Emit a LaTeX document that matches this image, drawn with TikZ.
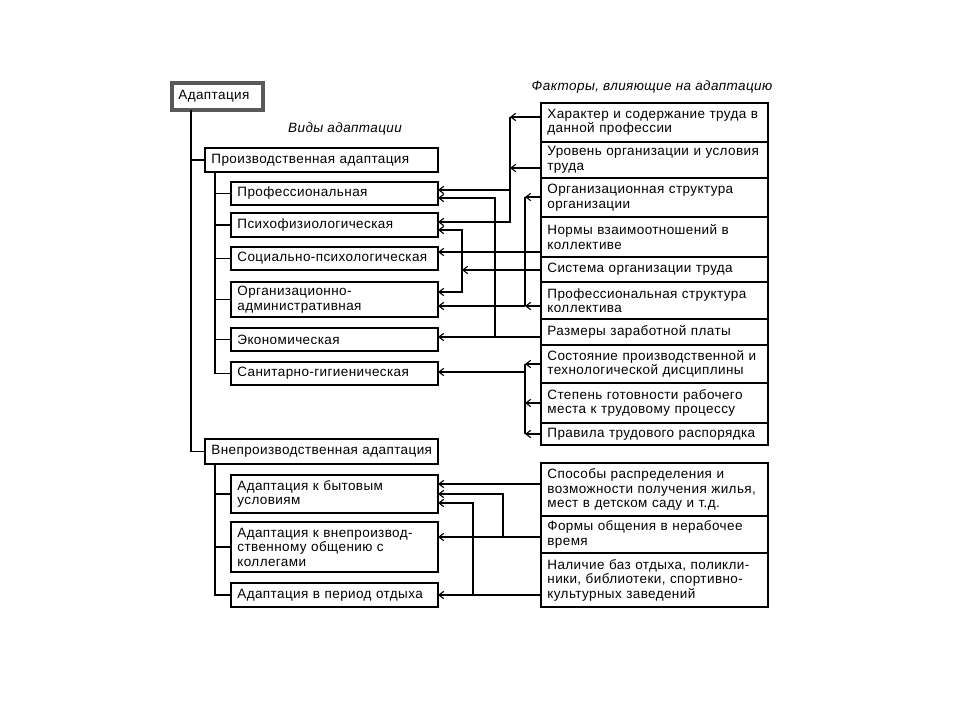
\documentclass[tikz,border=0pt]{standalone}
\usepackage{fontspec}
\setmainfont[LetterSpace=3]{Liberation Sans}
\usetikzlibrary{arrows.meta}

\begin{document}
\begin{tikzpicture}[x=0.025cm,y=-0.025cm,
  font=\fontsize{9.6}{10.3}\selectfont,
  box/.style={draw, line width=0.9pt, anchor=north west, inner xsep=0.16cm,
    inner ysep=0pt, align=left, outer sep=0pt},
  ht/.style={minimum height=#1*0.025cm},
  subbox/.style={box, text width=4.855cm},
  mainbox/.style={box, text width=5.505cm},
  factor/.style={box, text width=5.355cm},
  line/.style={line width=0.8pt},
  arr/.style={line, -{Straight Barb[length=3.4pt,width=5.2pt]}},
  title/.style={font=\fontsize{9.6}{10.3}\selectfont\itshape}
]
  \useasboundingbox (0,0) rectangle (960,720);

  % types of adaptation
  \node[box, draw=black!65, line width=2.6pt, text width=1.95cm, ht=27] (adapt) at (172,83) {Адаптация};
  \node[title] (vidy) at (345,129) {Виды адаптации};
  \node[mainbox, ht=24] (prod) at (205,148) {Производственная адаптация};
  \node[subbox, ht=23] (prof) at (231,182) {Профессиональная};
  \node[subbox, ht=24] (psych) at (231,213) {Психофизиологическая};
  \node[subbox, ht=23] (soc) at (231,247) {Социально-психологическая};
  \node[subbox, ht=35] (org) at (231,282) {Организационно-\\административная};
  \node[subbox, ht=23] (econ) at (231,328) {Экономическая};
  \node[subbox, ht=23] (sanit) at (231,362) {Санитарно-гигиеническая};
  \node[mainbox, ht=25] (neprod) at (205,439) {\mbox{Внепроизводственная адаптация}};
  \node[subbox, ht=38] (byt) at (231,475) {Адаптация к бытовым\\условиям};
  \node[subbox, ht=50] (obsch) at (231,522) {Адаптация к внепроизвод-\\ственному общению с\\коллегами};
  \node[subbox, ht=24] (otdyh) at (231,583) {Адаптация в период отдыха};

  % factors
  \node[title] (faktory) at (652,87) {Факторы, влияющие на адаптацию};
  \node[factor, ht=39] (harakter) at (541,103) {Характер и содержание труда в\\данной профессии};
  \node[factor, ht=36] (uroven) at (541,142) {Уровень организации и условия\\труда};
  \node[factor, ht=39] (orgstr) at (541,178) {Организационная структура\\организации};
  \node[factor, ht=40] (normy) at (541,217) {Нормы взаимоотношений в\\коллективе};
  \node[factor, ht=25] (sistema) at (541,257) {Система организации труда};
  \node[factor, ht=37] (profstr) at (541,282) {Профессиональная структура\\коллектива};
  \node[factor, ht=26] (zarplata) at (541,319) {Размеры заработной платы};
  \node[factor, ht=38] (disciplina) at (541,345) {Состояние производственной и\\технологической дисциплины};
  \node[factor, ht=40] (gotovnost) at (541,383) {Степень готовности рабочего\\места к трудовому процессу};
  \node[factor, ht=22] (rasporyadok) at (541,423) {Правила трудового распорядка};
  \node[factor, ht=53] (zhilye) at (541,463) {Способы распределения и\\возможности получения жилья,\\мест в детском саду и т.д.};
  \node[factor, ht=37] (obshchenie) at (541,516) {Формы общения в нерабочее\\время};
  \node[factor, ht=54] (bazy) at (541,553) {Наличие баз отдыха, поликли-\\ники, библиотеки, спортивно-\\культурных заведений};

  % tree
  \draw[line] (adapt.south -| 191,0) |- (neprod.west);
  \draw[line] (prod.west -| 191,0) -- (prod.west);
  \draw[line] (prod.south -| 215,0) |- (sanit.west);
  \foreach \n in {prof,psych,soc,org,econ}
    \draw[line] (\n.west -| 215,0) -- (\n.west);
  \draw[line] (neprod.south -| 215,0) |- (otdyh.west);
  \foreach \n in {byt,obsch}
    \draw[line] (\n.west -| 215,0) -- (\n.west);

  % buses
  \coordinate (busA) at (510,117);
  \coordinate (busB) at (495,337);
  \coordinate (busC) at (462,270);
  \coordinate (busD) at (525,197);
  \coordinate (busE) at (525,372);
  \coordinate (busF) at (503,537);
  \coordinate (busG) at (473,595);

  \draw[arr] (harakter.west |- busA) -- (busA);
  \draw[arr] (uroven.west |- 0,168) -- (busA |- 0,168);
  \draw[arr] (busA) |- (prof.east |- 0,190);
  \draw[arr] (busA) |- (psych.east |- 0,222);

  \draw[arr] (zarplata.west |- busB) -- (econ.east |- busB);
  \draw[arr] (busB) |- (prof.east |- 0,198);

  \draw[arr] (normy.west |- 0,252) -- (soc.east |- 0,252);

  \draw[arr] (sistema.west |- busC) -- (busC);
  \draw[arr] (busC) |- (psych.east |- 0,230);
  \draw[arr] (busC) |- (org.east |- 0,292);

  \draw[arr] (orgstr.west |- busD) -- (busD);
  \draw[line] (busD) -- (busD |- 0,306);
  \draw[arr] (profstr.west |- 0,306) -- (busD |- 0,306);
  \draw[arr] (busD |- 0,306) -- (org.east |- 0,306);

  \foreach \n in {disciplina,gotovnost,rasporyadok}
    \draw[arr] (\n.west) -- (\n.west -| busE);
  \draw[line] (disciplina.west -| busE) -- (rasporyadok.west -| busE);
  \draw[arr] (busE) -- (sanit.east |- busE);

  \draw[arr] (zhilye.west |- 0,484) -- (byt.east |- 0,484);
  \draw[arr] (obshchenie.west |- busF) -- (obsch.east |- busF);
  \draw[arr] (busF) |- (byt.east |- 0,494);
  \draw[arr] (bazy.west |- busG) -- (otdyh.east |- busG);
  \draw[arr] (busG) |- (byt.east |- 0,503);
\end{tikzpicture}
\end{document}
